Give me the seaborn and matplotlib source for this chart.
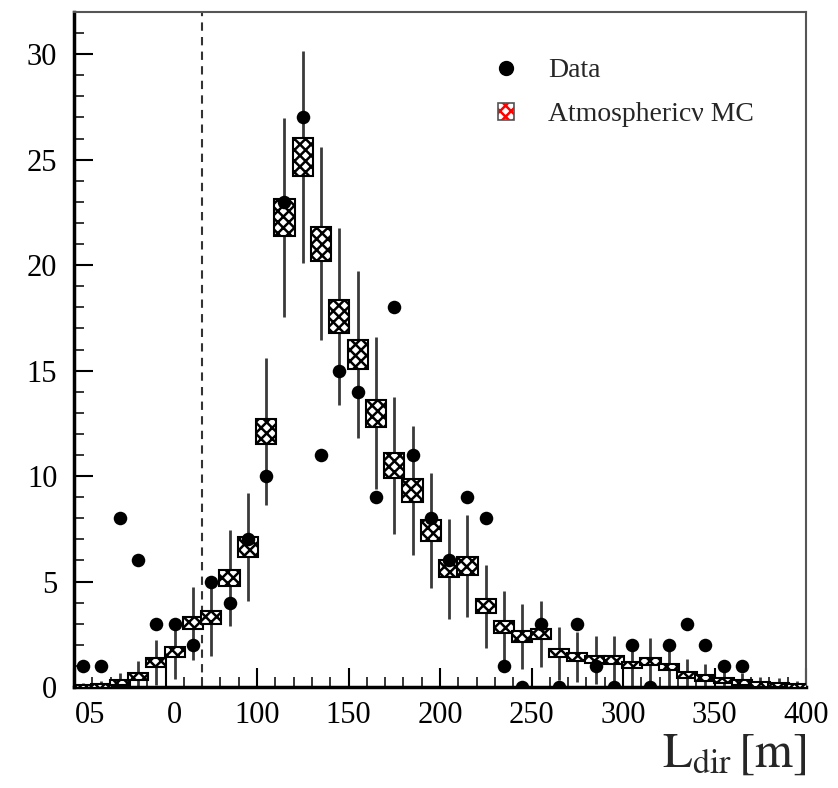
import matplotlib

matplotlib.use("Agg")
import matplotlib.pyplot as plt
import matplotlib.transforms as mtransforms
import numpy as np
import seaborn as sns
from matplotlib.legend_handler import HandlerTuple
from matplotlib.lines import Line2D
from matplotlib.patches import Patch
from matplotlib.ticker import MultipleLocator

# bin centres of L_dir [m]
bin_centers = [5, 15, 25, 35, 45, 55, 65, 75, 85, 95,
               105, 115, 125, 135, 145, 155, 165, 175, 185, 195,
               205, 215, 225, 235, 245, 255, 265, 275, 285, 295,
               305, 315, 325, 335, 345, 355, 365, 375, 385, 395]

data_counts = [1, 1, 8, 6, 3, 3, 2, 5, 4, 7,
               10, 23, 27, 11, 15, 14, 9, 18, 11, 8,
               6, 9, 8, 1, 0, 3, 0, 3, 1, 0,
               2, 0, 2, 3, 2, 1, 1, np.nan, np.nan, np.nan]

mc_counts = [0.03, 0.05, 0.2, 0.5, 1.15, 1.66, 3.02, 3.28, 5.17, 6.64,
             12.12, 22.27, 25.12, 21.02, 17.56, 15.77, 12.97, 10.49, 9.30, 7.41,
             5.6, 5.74, 3.83, 2.84, 2.4, 2.51, 1.6, 1.43, 1.3, 1.28,
             1.04, 1.22, 0.95, 0.57, 0.42, 0.3, 0.2, 0.12, 0.1, 0.06]

# statistical error bars drawn on the MC
mc_stat = [0.17, 0.22, 0.45, 0.72, 1.07, 1.29, 1.74, 1.81, 2.27, 2.58,
           3.48, 4.72, 5.01, 4.59, 4.19, 3.97, 3.6, 3.24, 3.05, 2.72,
           2.37, 2.4, 1.96, 1.69, 1.55, 1.58, 1.26, 1.2, 1.14, 1.13,
           1.02, 1.1, 0.97, 0.75, 0.65, 0.55, 0.45, 0.35, 0.32, 0.24]

# half height of the hatched MC boxes
mc_sys = [0.08, 0.08, 0.12, 0.15, 0.22, 0.25, 0.28, 0.3, 0.38, 0.47,
          0.6, 0.88, 0.89, 0.81, 0.79, 0.7, 0.65, 0.6, 0.55, 0.5,
          0.4, 0.42, 0.32, 0.27, 0.25, 0.25, 0.19, 0.18, 0.17, 0.17,
          0.16, 0.16, 0.15, 0.14, 0.13, 0.12, 0.12, 0.1, 0.1, 0.1]

x_ticks = [0, 50, 100, 150, 200, 250, 300, 350, 400]
x_tick_labels = ["05", "0", "100", "150", "200", "250", "300", "350", "400"]
y_ticks = [0, 5, 10, 15, 20, 25, 30]
cut_value = 70


def main() -> None:
    sns.set_theme(style="ticks")
    plt.rcParams["font.family"] = ["Liberation Serif", "DejaVu Serif"]
    plt.rcParams["mathtext.fontset"] = "stix"
    plt.rcParams["hatch.linewidth"] = 1.8

    fig = plt.figure(figsize=(8.38, 7.88), dpi=100)
    ax = fig.add_axes([74 / 838, 101 / 788, 732 / 838, 675 / 788])

    x = np.array(bin_centers, dtype=float)
    mc = np.array(mc_counts)
    stat = np.array(mc_stat)
    sys_ = np.array(mc_sys)

    # error bars of the MC
    ax.vlines(x, mc - stat, mc + stat, color="#3a3a3a", lw=2, zorder=2)

    # hatched MC boxes
    ax.bar(x, 2 * sys_, bottom=mc - sys_, width=11, facecolor="white",
           edgecolor="black", hatch="xxx", lw=1.5, zorder=3)

    # data points
    sns.scatterplot(x=bin_centers, y=data_counts, color="black", s=95,
                    edgecolor="black", linewidth=0, zorder=5, ax=ax, legend=False)

    ax.axvline(cut_value, color="#333333", lw=1.5, ls=(0, (4, 3)), zorder=1)

    ax.set_xlim(0, 400)
    ax.set_ylim(0, 32)
    ax.set_xticks(x_ticks)
    ax.set_xticklabels(x_tick_labels)
    ax.set_yticks(y_ticks)
    ax.xaxis.set_minor_locator(MultipleLocator(10))
    ax.yaxis.set_minor_locator(MultipleLocator(1))
    ax.tick_params(axis="both", which="major", direction="in", length=14, width=1.5,
                   labelsize=22, colors="black", top=False, right=False)
    ax.tick_params(axis="both", which="minor", direction="in", length=7, width=1.3,
                   top=False, right=False)
    ax.tick_params(axis="x", which="major", pad=10)
    ax.tick_params(axis="y", which="major", pad=12)

    # the first two x labels sit a little to the right in the original
    for lab, dx in zip(ax.get_xticklabels()[:2], [16, 9]):
        lab.set_transform(lab.get_transform() +
                          mtransforms.ScaledTranslation(dx / 100, 0, fig.dpi_scale_trans))

    for side in ["left", "bottom"]:
        ax.spines[side].set_linewidth(2.5)
        ax.spines[side].set_color("black")
    for side in ["top", "right"]:
        ax.spines[side].set_linewidth(1.5)
        ax.spines[side].set_color("#555555")

    ax.set_xlabel(r"$\mathrm{L}_{\mathrm{dir}}\,[\mathrm{m}]$", fontsize=35,
                  loc="right", labelpad=2)
    ax.set_ylabel("")

    data_handle = Line2D([], [], marker="o", color="black", ls="none", markersize=10)
    mc_handle = (Patch(facecolor="white", edgecolor="red", hatch="xxx", lw=0),
                 Patch(fill=False, edgecolor="#555555", lw=1.2))
    ax.legend([data_handle, mc_handle], ["Data", "Atmosphericν MC"],
              handler_map={tuple: HandlerTuple(ndivide=1)},
              loc="upper left", bbox_to_anchor=(0.56, 0.952), frameon=False,
              fontsize=20, handlelength=0.6, handleheight=0.6,
              handletextpad=1.2, labelspacing=0.69, borderpad=0)

    fig.savefig("out.png", dpi=100)
    plt.close(fig)


if __name__ == "__main__":
    main()
